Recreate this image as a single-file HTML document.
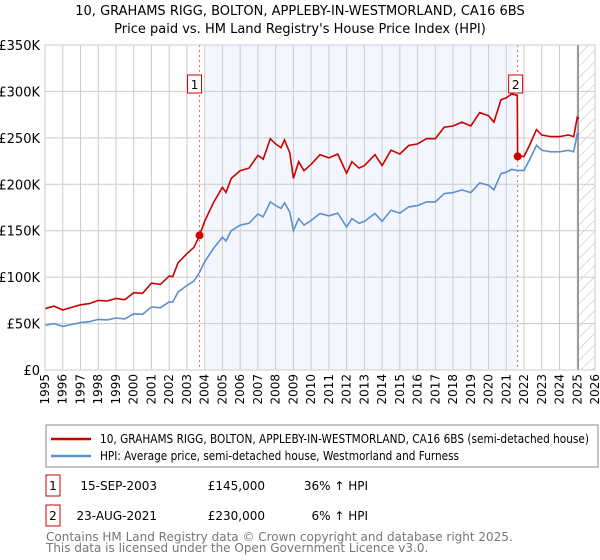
<!DOCTYPE html>
<html><head><meta charset="utf-8"><style>
body{margin:0;background:#fff;width:600px;height:560px;overflow:hidden;font-family:"DejaVu Sans","Liberation Sans",sans-serif;}
svg{display:block}
</style></head><body>
<svg id="c" width="600" height="560" font-family="DejaVu Sans, Liberation Sans, sans-serif">
<text x="300" y="15" text-anchor="middle" font-size="13">10, GRAHAMS RIGG, BOLTON, APPLEBY-IN-WESTMORLAND, CA16 6BS</text>
<text x="300" y="33" text-anchor="middle" font-size="13">Price paid vs. HM Land Registry's House Price Index (HPI)</text>
<g id="plot"></g>
<rect x="46" y="425" width="552" height="42" fill="#fff" stroke="#888"/>
<line x1="51" y1="439" x2="91" y2="439" stroke="#cc0000" stroke-width="2.5"/>
<text x="100" y="443" font-size="12" textLength="489" lengthAdjust="spacingAndGlyphs">10, GRAHAMS RIGG, BOLTON, APPLEBY-IN-WESTMORLAND, CA16 6BS (semi-detached house)</text>
<line x1="51" y1="456" x2="91" y2="456" stroke="#5b8fd4" stroke-width="2.5"/>
<text x="100" y="460" font-size="12" textLength="359" lengthAdjust="spacingAndGlyphs">HPI: Average price, semi-detached house, Westmorland and Furness</text>
<rect x="46" y="475" width="14" height="21" fill="#fff" stroke="#cc0000"/>
<text x="53" y="490" font-size="12" text-anchor="middle">1</text>
<text x="157" y="490" font-size="12" text-anchor="end">15-SEP-2003</text>
<text x="265" y="490" font-size="12" text-anchor="end">£145,000</text>
<text x="368" y="490" font-size="12" text-anchor="end">36% ↑ HPI</text>
<rect x="46" y="505" width="14" height="21" fill="#fff" stroke="#cc0000"/>
<text x="53" y="520" font-size="12" text-anchor="middle">2</text>
<text x="157" y="520" font-size="12" text-anchor="end">23-AUG-2021</text>
<text x="265" y="520" font-size="12" text-anchor="end">£230,000</text>
<text x="368" y="520" font-size="12" text-anchor="end">6% ↑ HPI</text>
<text x="46" y="541" font-size="12" fill="#777">Contains HM Land Registry data © Crown copyright and database right 2025.</text>
<text x="46" y="552" font-size="12" fill="#777">This data is licensed under the Open Government Licence v3.0.</text>
</svg>
<script>
const hpiDates=[1995,1995.5,1996,1996.5,1997,1997.5,1998,1998.5,1999,1999.5,2000,2000.5,2001,2001.5,2002,2002.2,2002.5,2003,2003.4,2003.7,2004,2004.5,2005,2005.2,2005.5,2006,2006.5,2007,2007.3,2007.7,2008,2008.3,2008.5,2008.8,2009,2009.3,2009.6,2010,2010.5,2011,2011.5,2011.8,2012,2012.3,2012.7,2013,2013.6,2014,2014.5,2015,2015.5,2016,2016.5,2017,2017.5,2018,2018.5,2019,2019.5,2020,2020.3,2020.7,2021,2021.3,2021.6,2022,2022.3,2022.7,2023,2023.5,2024,2024.5,2024.8,2025,2025.1];
const hpiValues=[48,50,47,49,51,52,54.5,54,56,55,60.5,60,68,67,73.5,73,84,91,96,105,116.5,131,143,139,150,156,158,168,165,181,177,174,180,170,150,163,156,161,168.5,166,169,160,154,163,158,160,168.5,160,172,169,175.7,177,181,181,190,191,194,191,201.5,199,194,211.5,213,216,215,215,226,242,236.6,235,235,236.6,235,254.6,253];
const saleDates=[2003.71,2021.64];
const salePrices=[145,230];
const yTicks=[0,50,100,150,200,250,300,350];
const yTickLabels=["£0","£50K","£100K","£150K","£200K","£250K","£300K","£350K"];
const xYears=[1995,1996,1997,1998,1999,2000,2001,2002,2003,2004,2005,2006,2007,2008,2009,2010,2011,2012,2013,2014,2015,2016,2017,2018,2019,2020,2021,2022,2023,2024,2025,2026];

const L=45,R=595,T=45,B=370;
const X=y=>L+(y-1995)*(R-L)/31;
const Y=v=>B-v*(B-T)/350;
const ns="http://www.w3.org/2000/svg";
const g=document.getElementById('plot');
function mk(t,a,p){const e=document.createElementNS(ns,t);for(const k in a)e.setAttribute(k,a[k]);(p||g).appendChild(e);return e;}
function hpiAt(d){for(let i=1;i<hpiDates.length;i++){if(d<=hpiDates[i]){const f=(d-hpiDates[i-1])/(hpiDates[i]-hpiDates[i-1]);return hpiValues[i-1]+f*(hpiValues[i]-hpiValues[i-1]);}}return hpiValues[hpiValues.length-1];}

let e=mk('rect',{x:X(2004),y:T,width:X(saleDates[1])-X(2004),height:B-T,fill:'#eef3fc',opacity:0.7});


const defs=mk('defs',{});
const pat=mk('pattern',{id:'hatch',width:8,height:8,patternUnits:'userSpaceOnUse',patternTransform:'rotate(45)'},defs);
mk('line',{x1:0,y1:0,x2:0,y2:8,stroke:'#bbb','stroke-width':1},pat);
e=mk('rect',{x:X(2025.05),y:T,width:R-X(2025.05),height:B-T,fill:'url(#hatch)'});


xYears.forEach(y=>{
  e=mk('line',{x1:X(y),y1:T,x2:X(y),y2:B,stroke:'#ccc','stroke-width':1});
  
  
  e=mk('text',{x:0,y:0,'font-size':12,'text-anchor':'end',transform:`translate(${X(y)+4},${B+4}) rotate(-90)`});
  e.textContent=y;
  
  
});
yTicks.forEach((v,i)=>{
  e=mk('line',{x1:L,y1:Y(v),x2:R,y2:Y(v),stroke:'#ccc','stroke-width':1});
  
  
  e=mk('text',{x:40,y:Y(v)+5,'font-size':13,'text-anchor':'end'});
  e.textContent=yTickLabels[i];
  
  
});
e=mk('line',{x1:X(2025.05),y1:T,x2:X(2025.05),y2:B,stroke:'#888','stroke-width':1.5});


saleDates.forEach((d,i)=>{
  e=mk('line',{x1:X(d),y1:T,x2:X(d),y2:B,stroke:'#f06060','stroke-width':1,'stroke-dasharray':'2,3'});
  
  
});
e=mk('path',{d:hpiDates.map((d,i)=>(i?'L':'M')+X(d).toFixed(1)+','+Y(hpiValues[i]).toFixed(1)).join(''),fill:'none',stroke:'#5b8fd4','stroke-width':1.6});


const r1=salePrices[0]/hpiAt(saleDates[0]), r2=salePrices[1]/hpiAt(saleDates[1]);
let pts=[];
hpiDates.forEach((d,i)=>{
  if(d<saleDates[1]) pts.push([d,hpiValues[i]*r1]);
});
pts.push([saleDates[1]-0.02,hpiAt(saleDates[1]-0.02)*r1]);
pts.push([saleDates[1],salePrices[1]]);
hpiDates.forEach((d,i)=>{if(d>saleDates[1])pts.push([d,hpiValues[i]*r2]);});
e=mk('path',{d:pts.map((p,i)=>(i?'L':'M')+X(p[0]).toFixed(1)+','+Y(p[1]).toFixed(1)).join(''),fill:'none',stroke:'#cc0000','stroke-width':1.6});


saleDates.forEach((d,i)=>{
  e=mk('circle',{cx:X(d),cy:Y(salePrices[i]),r:4,fill:'#cc0000'});
  
  
  const bx=X(d)-(i?9:12);
  e=mk('rect',{x:bx,y:75,width:14,height:18,fill:'#fff',stroke:'#cc0000'});
  
  
  e=mk('text',{x:bx+7,y:89,'font-size':12,'text-anchor':'middle'});
  e.textContent=i+1;
  
  
});
e=mk('rect',{x:L,y:T,width:R-L,height:B-T,fill:'none',stroke:'#ccc'});


</script>
</body></html>
